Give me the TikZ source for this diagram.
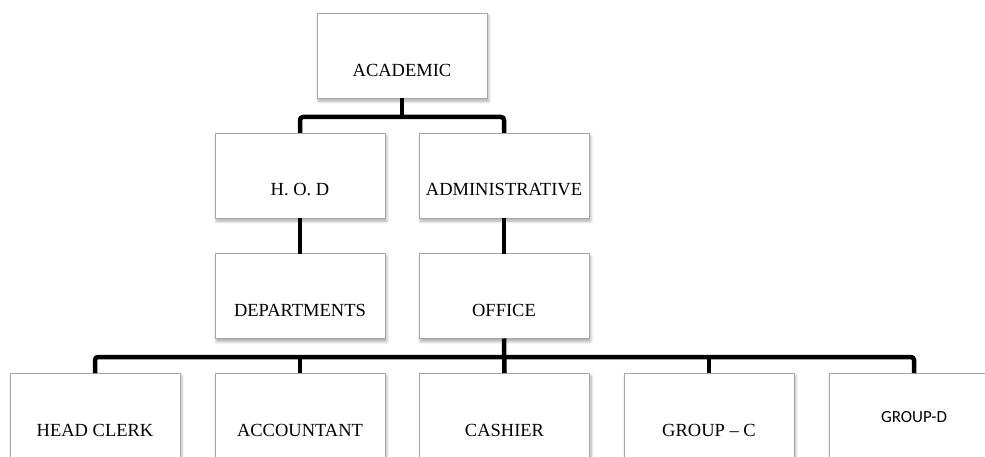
\documentclass[tikz,border=0pt]{standalone}
\usepackage{fontspec}
\setmainfont{Liberation Serif}
\newfontfamily\calibrifont{Carlito}
\usetikzlibrary{shadows.blur}
\tikzset{
  box/.style={rectangle, draw=black!35, line width=0.8pt, fill=white,
    minimum width=170pt, minimum height=85pt, inner sep=0pt, outer sep=0pt,
    blur shadow={shadow xshift=1.5pt, shadow yshift=-3pt, shadow blur steps=6, shadow opacity=35, shadow blur radius=3pt}},
  lbl/.style={font=\fontsize{18.5}{21}\selectfont, inner sep=0pt, text=black},
  sanslbl/.style={font=\calibrifont\fontsize{17}{20}\selectfont, inner sep=0pt, text=black},
  conn/.style={line width=4.5pt, black, rounded corners=3pt}
}
\begin{document}
\begin{tikzpicture}[x=1pt, y=-1pt]
\useasboundingbox (0,0) rectangle (985,457);
\clip (0,0) rectangle (985,457);
% boxes
\node[box] (acad) at (402,55.5) {};
\node[box] (hod) at (300,175.5) {};
\node[box] (admin) at (504,175.5) {};
\node[box] (dept) at (300,296) {};
\node[box] (office) at (504,296) {};
\node[box] (hc) at (95,415.5) {};
\node[box] (acc) at (300,415.5) {};
\node[box] (cash) at (504.5,415.5) {};
\node[box] (gc) at (709,415.5) {};
\node[box] (gd) at (914,415.5) {};
% labels
\node[lbl] (tacad) at ([yshift=-14.5pt]acad.center) {ACADEMIC};
\node[lbl] (thod) at ([yshift=-14.5pt]hod.center) {H. O. D};
\node[lbl] (tadmin) at ([yshift=-14.5pt]admin.center) {ADMINISTRATIVE};
\node[lbl] (tdept) at ([yshift=-14pt]dept.center) {DEPARTMENTS};
\node[lbl] (toffice) at ([yshift=-14pt]office.center) {OFFICE};
\node[lbl] (thc) at ([yshift=-14.5pt]hc.center) {HEAD CLERK};
\node[lbl] (tacc) at ([yshift=-14.5pt]acc.center) {ACCOUNTANT};
\node[lbl] (tcash) at ([yshift=-14.5pt]cash.center) {CASHIER};
\node[lbl] (tgc) at ([yshift=-14.5pt]gc.center) {GROUP -- C};
\node[sanslbl] (tgd) at ([yshift=-1.5pt]gd.center) {GROUP-D};
% connectors
\draw[conn] (hod.north) -- ++(0,-16) -| (admin.north);
\draw[conn] (acad.south) -- ++(0,19);
\draw[conn] (hod.south) -- (dept.north);
\draw[conn] (admin.south) -- (office.north);
\draw[conn] (hc.north) -- ++(0,-16) -| (gd.north);
\draw[conn] (office.south) -- (cash.north);
\draw[conn] (acc.north) -- ++(0,-16);
\draw[conn] (gc.north) -- ++(0,-16);
\end{tikzpicture}
\end{document}
